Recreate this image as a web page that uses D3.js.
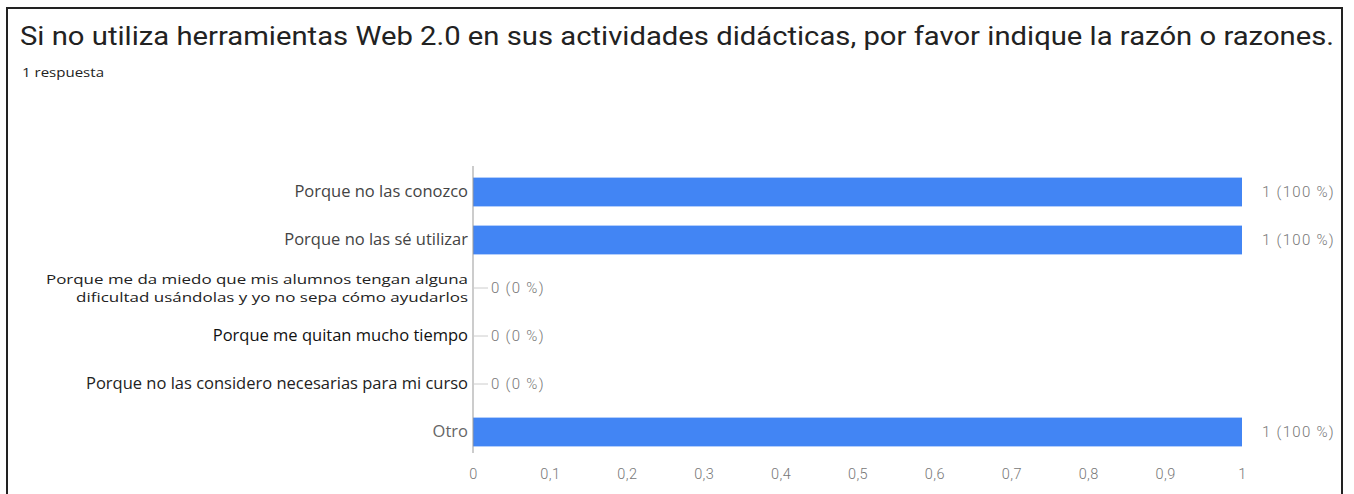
<html>
<head>
<meta charset="utf-8">
<script src="https://d3js.org/d3.v7.min.js"></script>
<style>
  body { margin: 0; background: #fff; }
  svg { font-family: "Open Sans", sans-serif; }
</style>
</head>
<body>
<svg id="chart"></svg>
<script>
const titleText = "Si no utiliza herramientas Web 2.0 en sus actividades didácticas, por favor indique la razón o razones.";
const subtitleText = "1 respuesta";
const categories = [
  ["Porque no las conozco"],
  ["Porque no las sé utilizar"],
  ["Porque me da miedo que mis alumnos tengan alguna", "dificultad usándolas y yo no sepa cómo ayudarlos"],
  ["Porque me quitan mucho tiempo"],
  ["Porque no las considero necesarias para mi curso"],
  ["Otro"]
];
const counts = [1, 1, 0, 0, 0, 1];
const percents = [100, 100, 0, 0, 0, 100];
const xTicks = [0, 0.1, 0.2, 0.3, 0.4, 0.5, 0.6, 0.7, 0.8, 0.9, 1];

const width = 1354, height = 494;
const svg = d3.select("#chart").attr("width", width).attr("height", height);

// frame
svg.append("rect")
  .attr("x", 7).attr("y", 8)
  .attr("width", 1335).attr("height", 500)
  .attr("fill", "none").attr("stroke", "#222").attr("stroke-width", 2);

svg.append("text")
  .attr("x", 20).attr("y", 45)
  .attr("font-family", "Roboto, sans-serif")
  .attr("font-size", 25)
  .attr("fill", "#222")
  .attr("textLength", 1314).attr("lengthAdjust", "spacingAndGlyphs")
  .text(titleText);

svg.append("text")
  .attr("x", 22).attr("y", 77)
  .attr("font-size", 13)
  .attr("fill", "#222")
  .attr("textLength", 82).attr("lengthAdjust", "spacingAndGlyphs")
  .text(subtitleText);

const x = d3.scaleLinear().domain([0, 1]).range([473, 1242]);
const y = d3.scaleBand().domain(d3.range(categories.length)).range([168, 456]).paddingInner(0.4).paddingOuter(0.2);

// bars
svg.selectAll("rect.bar")
  .data(counts)
  .join("rect")
  .attr("class", "bar")
  .attr("x", x(0))
  .attr("y", (d, i) => y(i))
  .attr("width", d => x(d) - x(0))
  .attr("height", y.bandwidth())
  .attr("fill", "#4285f4");

// vertical axis line
svg.append("line")
  .attr("x1", x(0)).attr("x2", x(0))
  .attr("y1", 166).attr("y2", 453)
  .attr("stroke", "#999").attr("stroke-width", 1);

// category labels
const labelColors = ["#444", "#444", "#222", "#111", "#222", "#666"];
categories.forEach((lines, i) => {
  const cy = y(i) + y.bandwidth() / 2;
  const t = svg.append("text")
    .attr("text-anchor", "end")
    .attr("font-size", lines.length > 1 ? 13.5 : 16.5)
    .attr("fill", labelColors[i]);
  lines.forEach((ln, j) => {
    const ts = t.append("tspan")
      .attr("x", 468)
      .attr("y", cy + 5 + (j - (lines.length - 1) / 2) * 18.5)
      .text(ln);
    // stretch the two-line label to the width it has in the picture
    if (lines.length > 1) ts.attr("textLength", j === 0 ? 422 : 392).attr("lengthAdjust", "spacingAndGlyphs");
  });
});

// value labels
svg.selectAll("text.val")
  .data(counts)
  .join("text")
  .attr("class", "val")
  .attr("x", d => d > 0 ? x(d) + 20 : x(d) + 18)
  .attr("y", (d, i) => y(i) + y.bandwidth() / 2 + 5)
  .attr("font-family", "Roboto, sans-serif")
  .attr("font-size", 15)
  .attr("font-weight", 300)
  .attr("letter-spacing", 1.3)
  .attr("fill", "#777")
  .text((d, i) => `${d} (${percents[i]} %)`);

// short leader lines for zero values
svg.selectAll("line.lead")
  .data(counts.map((d, i) => [d, i]).filter(p => p[0] === 0))
  .join("line")
  .attr("class", "lead")
  .attr("x1", x(0)).attr("x2", x(0) + 15)
  .attr("y1", p => y(p[1]) + y.bandwidth() / 2)
  .attr("y2", p => y(p[1]) + y.bandwidth() / 2)
  .attr("stroke", "#ccc");

// x axis tick labels
const xAxis = d3.axisBottom(x)
  .tickValues(xTicks)
  .tickSize(0)
  .tickFormat(d => String(d).replace(".", ","));
const gx = svg.append("g")
  .attr("transform", "translate(0,466)")
  .call(xAxis);
gx.select(".domain").remove();
gx.selectAll("text")
  .attr("font-family", "Roboto, sans-serif")
  .attr("font-size", 14.5)
  .attr("font-weight", 300)
  .attr("letter-spacing", 0.4)
  .attr("fill", "#777");
</script>
</body>
</html>
